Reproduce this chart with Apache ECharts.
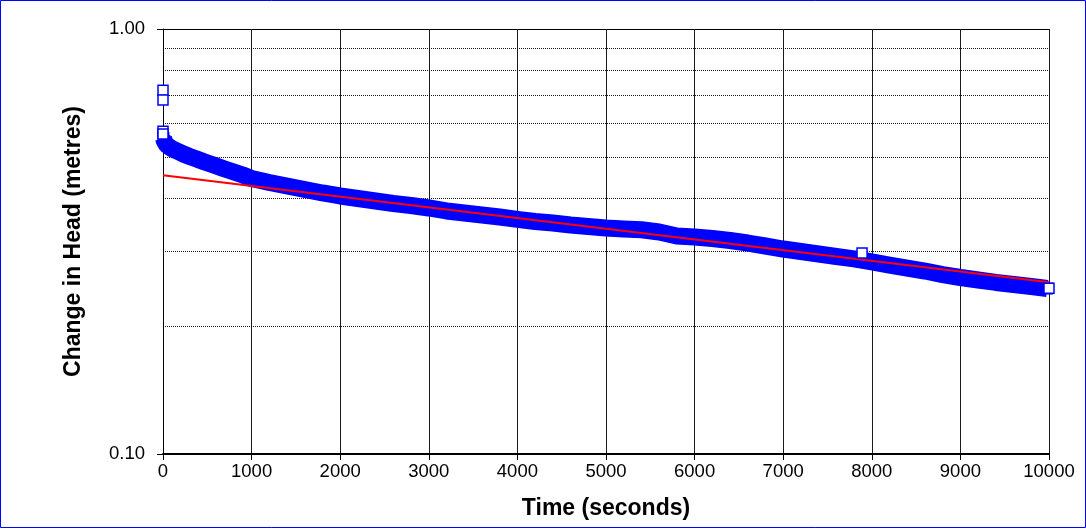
<!DOCTYPE html>
<html>
<head>
<meta charset="utf-8">
<script src="https://cdn.jsdelivr.net/npm/echarts@6/dist/echarts.min.js"></script>
<style>
html,body{margin:0;padding:0;background:#fff;}
#chart{width:1086px;height:529px;}
</style>
</head>
<body>
<div id="chart"></div>
<script>
// Measured drawdown band (time in seconds, change in head in metres)
const timeSec = [5,15,30,50,80,120,170,230,300,380,470,570,680,800,900,1000,1200,1400,1600,1800,2000,2200,2400,2600,2800,3000,3200,3400,3600,3800,4000,4200,4400,4600,4800,5000,5200,5400,5600,5800,6000,6200,6400,6600,6800,7000,7200,7400,7600,7800,8000,8200,8400,8600,8800,9000,9200,9400,9600,9800,9980];
const headM = [0.5539,0.5450,0.5377,0.5319,0.5262,0.5205,0.5149,0.5080,0.5012,0.4945,0.4865,0.4786,0.4696,0.4608,0.4533,0.4449,0.4353,0.4272,0.4192,0.4113,0.4047,0.3992,0.3938,0.3885,0.3843,0.3792,0.3731,0.3690,0.3651,0.3612,0.3566,0.3524,0.3496,0.3458,0.3430,0.3402,0.3384,0.3369,0.3330,0.3258,0.3240,0.3215,0.3179,0.3136,0.3086,0.3036,0.2995,0.2955,0.2915,0.2877,0.2830,0.2784,0.2739,0.2695,0.2644,0.2602,0.2567,0.2533,0.2505,0.2478,0.2451];
// Isolated (visible, hollow) readings
const outlierTime = [0,0,0,0,7890,10000];
const outlierHead = [0.718,0.681,0.575,0.566,0.297,0.2454];
// Exponential trend line end points
const trendTime = [0,10000];
const trendHead = [0.453,0.2535];
// Minor log grid values
const minorGrid = [0.2,0.3,0.4,0.5,0.6,0.7,0.8,0.9];
const xTicks = {min:0, max:10000, interval:1000};
const yRange = {min:0.1, max:1};

const zip = (a,b) => a.map((v,i)=>[v,b[i]]);
const font = 'Liberation Sans, Arial, sans-serif';

const chart = echarts.init(document.getElementById('chart'), null, {renderer:'canvas'});
chart.setOption({
  animation:false,
  backgroundColor:'#ffffff',
  grid:{left:163, right:37, top:29, bottom:75},
  xAxis:{
    type:'value', min:xTicks.min, max:xTicks.max, interval:xTicks.interval,
    name:'Time (seconds)', nameLocation:'middle', nameGap:43,
    nameTextStyle:{fontFamily:font, fontWeight:'bold', fontSize:23, color:'#000'},
    axisLine:{onZero:false, lineStyle:{color:'#000', width:2}},
    axisTick:{show:true, length:6, lineStyle:{color:'#000', width:1}},
    axisLabel:{color:'#000', fontSize:18.5, fontFamily:font, margin:8, formatter:v=>String(v)},
    splitLine:{show:true, lineStyle:{color:'#1a1a1a', width:1}}
  },
  yAxis:{
    type:'log', logBase:10, min:yRange.min, max:yRange.max,
    name:'Change in Head (metres)', nameLocation:'middle', nameGap:78, nameRotate:90,
    nameTextStyle:{fontFamily:font, fontWeight:'bold', fontSize:23, color:'#000'},
    axisLine:{show:true, lineStyle:{color:'#000', width:1}},
    axisTick:{show:true, length:6, lineStyle:{color:'#000', width:1}},
    axisLabel:{color:'#000', fontSize:18.5, fontFamily:font, margin:18, formatter:v=>Number(v).toFixed(2)},
    splitLine:{show:true, lineStyle:{color:'#000', width:1}},
    minorTick:{show:false}, minorSplitLine:{show:false}
  },
  series:[
    {
      name:'bandTrace', type:'line', data:zip(timeSec, headM),
      showSymbol:false, symbol:'none',
      lineStyle:{color:'#0000ff', width:17, cap:'butt', join:'round'},
      z:2, silent:true
    },
    {
      name:'band', type:'scatter', data:zip(timeSec, headM),
      symbol:'rect', symbolSize:12,
      itemStyle:{color:'#0000ff', borderColor:'#0000ff', borderWidth:0, opacity:1},
      z:3, silent:true
    },
    {
      name:'trend', type:'line', data:zip(trendTime, trendHead),
      showSymbol:false, symbol:'none',
      lineStyle:{color:'#ff0000', width:2},
      z:4, silent:true,
      markLine:{
        silent:true, symbol:['none','none'], label:{show:false},
        lineStyle:{color:'#000', type:[1,1], width:1, opacity:0.9},
        data:minorGrid.map(v=>({yAxis:v})),
        z:1
      }
    },
    {
      name:'points', type:'scatter', data:zip(outlierTime, outlierHead),
      symbol:'rect', symbolSize:10,
      itemStyle:{color:'#ffffff', borderColor:'#0000ff', borderWidth:1.5, opacity:1},
      z:5, silent:true
    }
  ],
  graphic:[{
    type:'rect', silent:true, z:100,
    shape:{x:0.5, y:0.5, width:1085, height:527},
    style:{fill:'none', stroke:'#0000ff', lineWidth:1}
  }]
});
</script>
</body>
</html>
